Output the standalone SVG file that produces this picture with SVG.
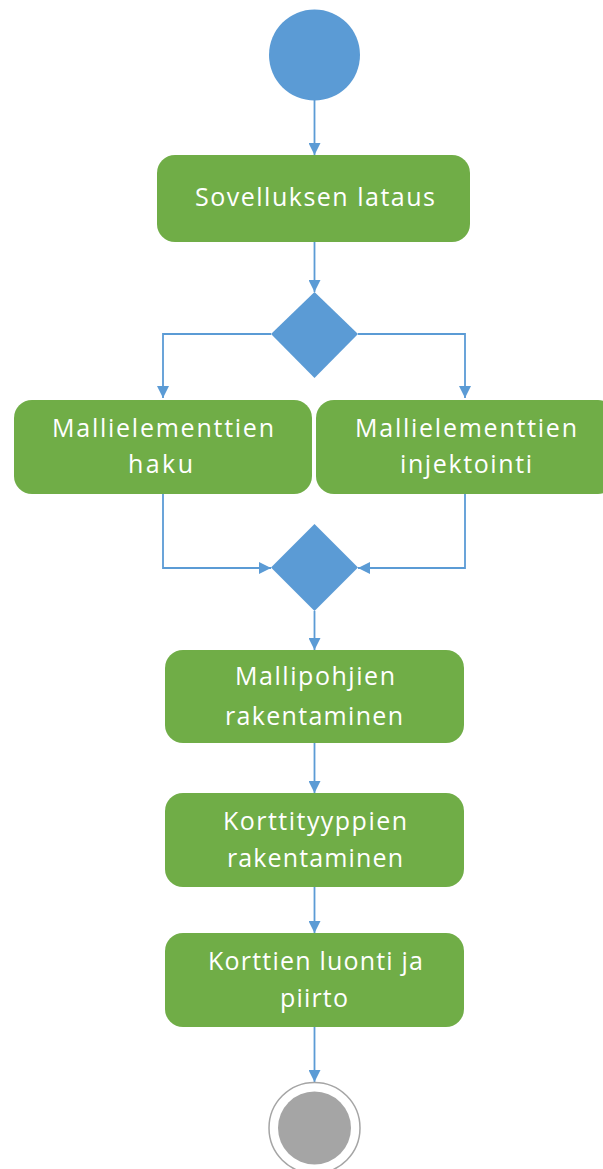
<svg xmlns="http://www.w3.org/2000/svg" width="603" height="1169" viewBox="0 0 603 1169">
  <style>
    .act { fill: #70AD47; }
    .lbl { fill: #FFFFFF; font-family: "Open Sans", "Liberation Sans", sans-serif; font-size: 25px; text-anchor: middle; }
    .flow { fill: none; stroke: #5B9BD5; stroke-width: 1.8; }
    .ctl { fill: #5B9BD5; }
  </style>
  <defs>
    <marker id="arrow" viewBox="0 0 12 12" refX="12" refY="6" markerWidth="12" markerHeight="12" markerUnits="userSpaceOnUse" orient="auto">
      <path d="M0,0 L12,6 L0,12 Z" fill="#5B9BD5"/>
    </marker>
  </defs>

  <g id="connectors">
    <line class="flow" x1="314.5" y1="100" x2="314.5" y2="155" marker-end="url(#arrow)"/>
    <line class="flow" x1="314.5" y1="242" x2="314.5" y2="292" marker-end="url(#arrow)"/>
    <polyline class="flow" points="271,334 163,334 163,398" marker-end="url(#arrow)"/>
    <polyline class="flow" points="358,334 465,334 465,398" marker-end="url(#arrow)"/>
    <polyline class="flow" points="163,494 163,568 271,568" marker-end="url(#arrow)"/>
    <polyline class="flow" points="465,494 465,568 358,568" marker-end="url(#arrow)"/>
    <line class="flow" x1="314.5" y1="611" x2="314.5" y2="650" marker-end="url(#arrow)"/>
    <line class="flow" x1="314.5" y1="743" x2="314.5" y2="793" marker-end="url(#arrow)"/>
    <line class="flow" x1="314.5" y1="887" x2="314.5" y2="933" marker-end="url(#arrow)"/>
    <line class="flow" x1="314.5" y1="1027" x2="314.5" y2="1082" marker-end="url(#arrow)"/>
  </g>

  <g id="start">
    <circle class="ctl" cx="314.5" cy="55" r="45.5"/>
  </g>

  <g id="sovelluksen-lataus">
    <rect class="act" x="157" y="155" width="313" height="87" rx="18"/>
    <text class="lbl" x="315" y="206" textLength="240" lengthAdjust="spacing">Sovelluksen lataus</text>
  </g>

  <g id="decision">
    <polygon class="ctl" points="314.5,292 358,334 314.5,378 271,334"/>
  </g>

  <g id="mallielementtien-haku">
    <rect class="act" x="14" y="400" width="298" height="94" rx="18"/>
    <text class="lbl" x="163" y="437" textLength="222" lengthAdjust="spacing">Mallielementtien</text>
    <text class="lbl" x="160.5" y="473" textLength="65" lengthAdjust="spacing">haku</text>
  </g>

  <g id="mallielementtien-injektointi">
    <rect class="act" x="316" y="400" width="300" height="94" rx="18"/>
    <text class="lbl" x="466" y="437" textLength="222" lengthAdjust="spacing">Mallielementtien</text>
    <text class="lbl" x="466" y="473" textLength="132" lengthAdjust="spacing">injektointi</text>
  </g>

  <g id="merge">
    <polygon class="ctl" points="314.5,524 358,567.5 314.5,611 271,567.5"/>
  </g>

  <g id="mallipohjien-rakentaminen">
    <rect class="act" x="165" y="650" width="299" height="93" rx="18"/>
    <text class="lbl" x="315" y="685" textLength="160" lengthAdjust="spacing">Mallipohjien</text>
    <text class="lbl" x="314" y="725" textLength="178" lengthAdjust="spacing">rakentaminen</text>
  </g>

  <g id="korttityyppien-rakentaminen">
    <rect class="act" x="165" y="793" width="299" height="94" rx="18"/>
    <text class="lbl" x="315" y="830" textLength="184" lengthAdjust="spacing">Korttityyppien</text>
    <text class="lbl" x="315" y="867" textLength="176" lengthAdjust="spacing">rakentaminen</text>
  </g>

  <g id="korttien-luonti-ja-piirto">
    <rect class="act" x="165" y="933" width="299" height="94" rx="18"/>
    <text class="lbl" x="315.5" y="970" textLength="215" lengthAdjust="spacing">Korttien luonti ja</text>
    <text class="lbl" x="314" y="1007" textLength="68" lengthAdjust="spacing">piirto</text>
  </g>

  <g id="end">
    <circle cx="314.5" cy="1128" r="45.5" fill="#FFFFFF" stroke="#A5A5A5" stroke-width="1.5"/>
    <circle cx="314.5" cy="1128" r="36.5" fill="#A5A5A5"/>
  </g>
</svg>
